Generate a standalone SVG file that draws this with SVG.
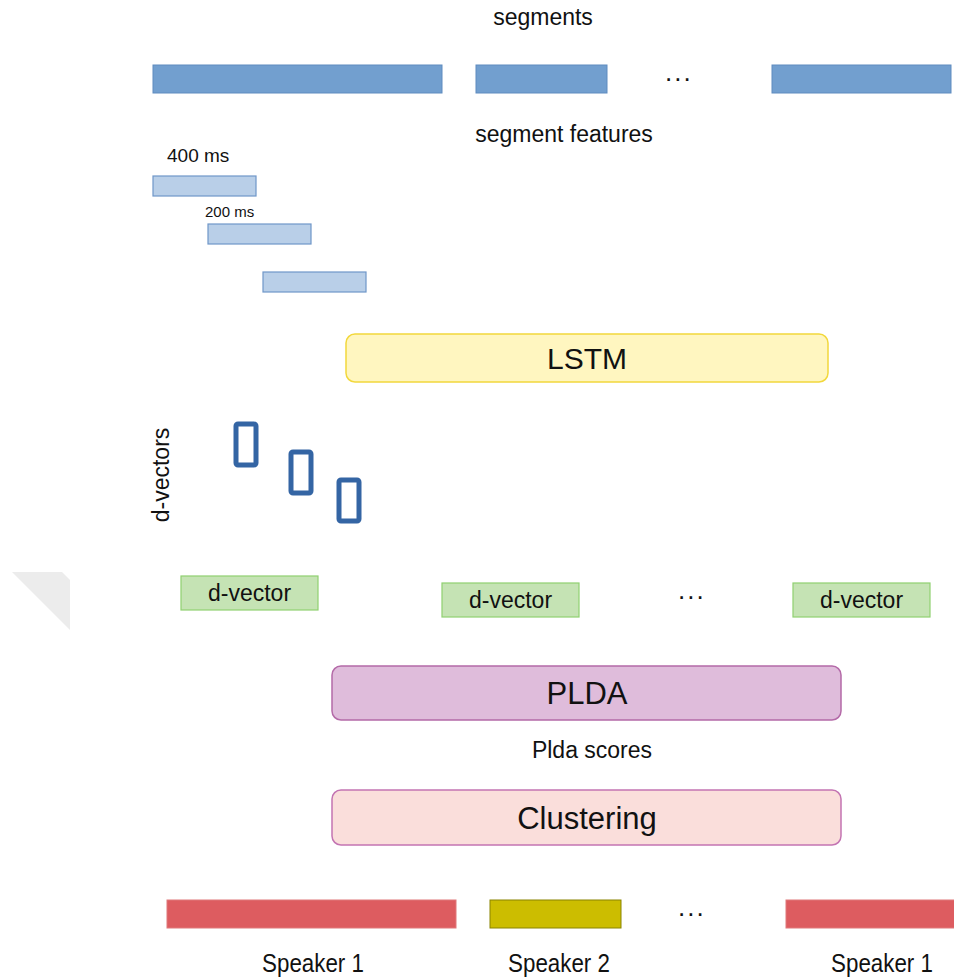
<svg xmlns="http://www.w3.org/2000/svg" width="954" height="978" viewBox="0 0 954 978">
  <style>
    text { font-family: "Liberation Sans", Arial, sans-serif; fill: #111; }
    .c { text-anchor: middle; }
    .dots { font-size: 26px; letter-spacing: 2px; }
    .seg { fill: #729fcf; stroke: #5f8bbf; stroke-width: 1; }
    .feat { fill: #b9cfe8; stroke: #6f97c8; stroke-width: 1.2; }
    .dv { fill: none; stroke: #3465a4; stroke-width: 5; }
    .dbox { fill: #c5e3b4; stroke: #8fd070; stroke-width: 1.2; }
    .spk1 { fill: #dd5c60; stroke: #e0787a; stroke-width: 1; }
    .spk2 { fill: #ccbd00; stroke: #8a8400; stroke-width: 1; }
  </style>

  <!-- corner page curl at the left edge -->
  <polygon points="12,572 62,572 70,580 70,630" fill="#ececec"/>

  <g id="segments">
    <text class="c" x="543" y="25" font-size="23">segments</text>
    <rect class="seg" x="153" y="65" width="289" height="28"/>
    <rect class="seg" x="476" y="65" width="131" height="28"/>
    <text class="dots" x="665" y="81">...</text>
    <rect class="seg" x="772" y="65" width="179" height="28"/>
  </g>

  <g id="segment-features">
    <text class="c" x="564" y="142" font-size="23">segment features</text>
    <text x="167" y="162" font-size="19">400 ms</text>
    <rect class="feat" x="153" y="176" width="103" height="20"/>
    <text x="205" y="217" font-size="15">200 ms</text>
    <rect class="feat" x="208" y="224" width="103" height="20"/>
    <rect class="feat" x="263" y="272" width="103" height="20"/>
  </g>

  <g id="lstm">
    <rect x="346" y="334" width="482" height="48" rx="9" fill="#fff6c0" stroke="#f2d83c" stroke-width="1.5"/>
    <text class="c" x="587" y="369" font-size="30">LSTM</text>
  </g>

  <g id="d-vectors">
    <text class="c" font-size="23" transform="translate(169,475) rotate(-90)">d-vectors</text>
    <rect class="dv" x="236" y="424" width="20" height="41" rx="2"/>
    <rect class="dv" x="291" y="452" width="20" height="41" rx="2"/>
    <rect class="dv" x="339" y="480" width="20" height="41" rx="2"/>
  </g>

  <g id="d-vector-row">
    <rect class="dbox" x="181" y="576" width="137" height="34"/>
    <text class="c" x="249.5" y="601" font-size="23">d-vector</text>
    <rect class="dbox" x="442" y="583" width="137" height="34"/>
    <text class="c" x="510.5" y="608" font-size="23">d-vector</text>
    <text class="dots" x="678" y="599">...</text>
    <rect class="dbox" x="793" y="583" width="137" height="34"/>
    <text class="c" x="861.5" y="608" font-size="23">d-vector</text>
  </g>

  <g id="plda">
    <rect x="332" y="666" width="509" height="54" rx="9" fill="#dfbcdb" stroke="#b46aa8" stroke-width="1.5"/>
    <text class="c" x="587" y="704" font-size="31">PLDA</text>
    <text class="c" x="592" y="758" font-size="23">Plda scores</text>
  </g>

  <g id="clustering">
    <rect x="332" y="790" width="509" height="55" rx="9" fill="#fadedb" stroke="#c374b2" stroke-width="1.5"/>
    <text class="c" x="587" y="829" font-size="31">Clustering</text>
  </g>

  <g id="speakers">
    <rect class="spk1" x="167" y="900" width="289" height="28"/>
    <rect class="spk2" x="490" y="900" width="131" height="28"/>
    <text class="dots" x="678" y="916">...</text>
    <rect class="spk1" x="786" y="900" width="170" height="28"/>
    <text class="c" font-size="26" transform="translate(313,972) scale(0.86,1)">Speaker 1</text>
    <text class="c" font-size="26" transform="translate(559,972) scale(0.86,1)">Speaker 2</text>
    <text class="c" font-size="26" transform="translate(882,972) scale(0.86,1)">Speaker 1</text>
  </g>
</svg>
